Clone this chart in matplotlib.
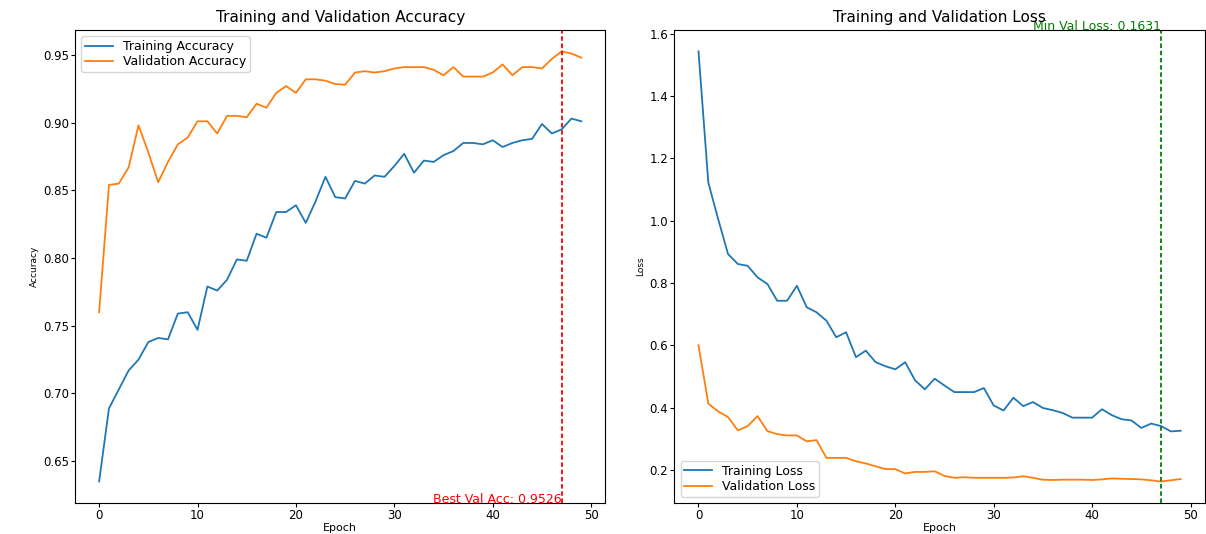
import numpy as np
import matplotlib
matplotlib.use('Agg')
import matplotlib.pyplot as plt

# values (50 epochs)
epochs = np.arange(50)

train_acc = [0.635, 0.689, 0.703, 0.717, 0.725, 0.738, 0.741, 0.740, 0.759, 0.760,
             0.747, 0.779, 0.776, 0.784, 0.799, 0.798, 0.818, 0.815, 0.834, 0.834,
             0.839, 0.826, 0.842, 0.860, 0.845, 0.844, 0.857, 0.855, 0.861, 0.860,
             0.868, 0.877, 0.863, 0.872, 0.871, 0.876, 0.879, 0.885, 0.885, 0.884,
             0.887, 0.882, 0.885, 0.887, 0.888, 0.899, 0.892, 0.895, 0.903, 0.901]

val_acc = [0.760, 0.854, 0.855, 0.867, 0.898, 0.878, 0.856, 0.871, 0.884, 0.889,
           0.901, 0.901, 0.892, 0.905, 0.905, 0.904, 0.914, 0.911, 0.922, 0.927,
           0.922, 0.932, 0.932, 0.931, 0.9285, 0.928, 0.937, 0.938, 0.937, 0.938,
           0.940, 0.941, 0.941, 0.941, 0.939, 0.935, 0.941, 0.934, 0.934, 0.934,
           0.937, 0.943, 0.935, 0.941, 0.941, 0.940, 0.947, 0.9526, 0.951, 0.948]

train_loss = [1.543, 1.122, 1.005, 0.893, 0.861, 0.855, 0.818, 0.797, 0.743, 0.743,
              0.791, 0.722, 0.706, 0.679, 0.626, 0.642, 0.562, 0.583, 0.546, 0.533,
              0.523, 0.546, 0.488, 0.459, 0.493, 0.471, 0.450, 0.450, 0.450, 0.463,
              0.407, 0.391, 0.432, 0.405, 0.418, 0.399, 0.392, 0.383, 0.368, 0.368,
              0.368, 0.395, 0.376, 0.363, 0.359, 0.335, 0.349, 0.341, 0.324, 0.326]

val_loss = [0.600, 0.413, 0.388, 0.370, 0.327, 0.341, 0.373, 0.325, 0.315, 0.311,
            0.311, 0.292, 0.296, 0.239, 0.239, 0.239, 0.228, 0.221, 0.212, 0.203,
            0.203, 0.189, 0.194, 0.194, 0.196, 0.181, 0.175, 0.177, 0.175, 0.175,
            0.175, 0.175, 0.176, 0.180, 0.175, 0.169, 0.168, 0.169, 0.169, 0.169,
            0.168, 0.170, 0.173, 0.172, 0.171, 0.170, 0.167, 0.1631, 0.167, 0.171]

best_epoch = int(np.argmax(val_acc))
min_epoch = int(np.argmin(val_loss))

fig = plt.figure(figsize=(12.06, 5.34), dpi=100)

# accuracy
ax1 = plt.subplot(1, 2, 1)
ax1.plot(epochs, train_acc, label='Training Accuracy', lw=1.3)
ax1.plot(epochs, val_acc, label='Validation Accuracy', lw=1.3)
ax1.axvline(best_epoch, color='red', linestyle='--', lw=1.3, dashes=(2.5, 1.5))
ax1.text(best_epoch, ax1.get_ylim()[0], f'Best Val Acc: {max(val_acc):.4f}',
         color='red', ha='right', fontsize=9)
ax1.set_title('Training and Validation Accuracy', fontsize=11)
ax1.set_xlabel('Epoch', fontsize=8, labelpad=0.5)
ax1.set_ylabel('Accuracy', fontsize=6.5, labelpad=3)
ax1.legend(loc='upper left', fontsize=9, handlelength=2.2, borderpad=0.3, labelspacing=0.2)
ax1.tick_params(labelsize=8.5, pad=1.5, length=3)

# loss
ax2 = plt.subplot(1, 2, 2)
ax2.plot(epochs, train_loss, label='Training Loss', lw=1.3)
ax2.plot(epochs, val_loss, label='Validation Loss', lw=1.3)
ax2.axvline(min_epoch, color='green', linestyle='--', lw=1.3, dashes=(2.5, 1.5))
ax2.text(min_epoch, ax2.get_ylim()[1], f'Min Val Loss: {min(val_loss):.4f}',
         color='green', ha='right', fontsize=9)
ax2.set_title('Training and Validation Loss', fontsize=11)
ax2.set_xlabel('Epoch', fontsize=8, labelpad=0.5)
ax2.set_ylabel('Loss', fontsize=6.5, labelpad=3)
ax2.legend(loc='lower left', fontsize=9, handlelength=2.2, borderpad=0.3, labelspacing=0.2)
ax2.tick_params(labelsize=8.5, pad=1.5, length=3)

plt.subplots_adjust(left=0.0622, right=0.999, bottom=0.058, top=0.944, wspace=0.13)
plt.savefig('out.png', dpi=100)
